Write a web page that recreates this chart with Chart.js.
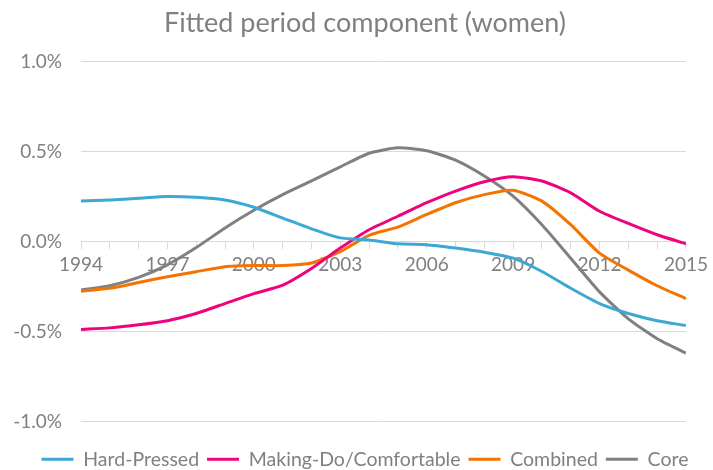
<!DOCTYPE html>
<html>
<head>
<meta charset="utf-8">
<script src="https://cdn.jsdelivr.net/npm/chart.js@4/dist/chart.umd.min.js"></script>
<style>
  html, body { margin: 0; padding: 0; background: #fff; }
  #wrap { width: 713px; height: 470px; }
</style>
</head>
<body>
<div id="wrap"><canvas id="chart" width="713" height="470"></canvas></div>
<script>
// years 1994..2015, values in percent
const years = [1994, 1995, 1996, 1997, 1998, 1999, 2000, 2001, 2002, 2003, 2004,
               2005, 2006, 2007, 2008, 2009, 2010, 2011, 2012, 2013, 2014, 2015];
const yearLabels = [1994, 1997, 2000, 2003, 2006, 2009, 2012, 2015];
const yTicks = [-1.0, -0.5, 0.0, 0.5, 1.0];

const hardPressed = [0.224, 0.23, 0.24, 0.25, 0.245, 0.23, 0.19, 0.13, 0.07, 0.02, 0.008,
                     -0.013, -0.018, -0.037, -0.06, -0.093, -0.167, -0.26, -0.345, -0.40, -0.44, -0.467];
const makingDo = [-0.489, -0.48, -0.463, -0.44, -0.40, -0.345, -0.29, -0.243, -0.15, -0.037, 0.065,
                  0.14, 0.215, 0.28, 0.332, 0.36, 0.336, 0.27, 0.168, 0.10, 0.037, -0.013];
const combined = [-0.276, -0.26, -0.228, -0.196, -0.168, -0.14, -0.134, -0.134, -0.12, -0.056, 0.034,
                  0.08, 0.15, 0.215, 0.26, 0.284, 0.224, 0.093, -0.065, -0.159, -0.246, -0.317];
const core = [-0.27, -0.246, -0.2, -0.13, -0.034, 0.075, 0.173, 0.26, 0.336, 0.414, 0.49,
              0.52, 0.504, 0.452, 0.364, 0.252, 0.093, -0.093, -0.28, -0.43, -0.54, -0.62];

const seriesNames = ['Hard-Pressed', 'Making-Do/Comfortable', 'Combined', 'Core'];
const seriesColors = ['#3BA9D3', '#F0027F', '#F57300', '#808080'];
const seriesValues = [hardPressed, makingDo, combined, core];

const textGrey = '#808080';
const gridGrey = '#D9D9D9';
const fontName = 'Lato, "Open Sans", sans-serif';

function toPoints(vals) {
    return vals.map((v, i) => ({ x: years[i], y: v }));
}

const datasets = seriesNames.map((name, i) => ({
    label: name,
    data: toPoints(seriesValues[i]),
    borderColor: seriesColors[i],
    backgroundColor: seriesColors[i],
    borderWidth: 3,
    pointRadius: 0,
    tension: 0.2,
    fill: false
}));

new Chart(document.getElementById('chart'), {
    type: 'line',
    data: { datasets: datasets },
    options: {
        responsive: false,
        animation: false,
        layout: { padding: { left: 10, right: -7, top: 4, bottom: -9 } },
        plugins: {
            title: {
                display: true,
                text: 'Fitted period component (women)',
                color: textGrey,
                font: { family: fontName, size: 27, weight: 'normal' },
                padding: { top: 3, bottom: 22 }
            },
            legend: {
                position: 'bottom',
                // empty legend title only used as a spacer above the items
                title: { display: true, text: '', font: { size: 2 }, padding: { top: 0, bottom: 17.6 } },
                labels: {
                    usePointStyle: true,
                    pointStyle: 'line',
                    pointStyleWidth: 32,
                    boxHeight: 3,
                    color: textGrey,
                    padding: 8,
                    font: { family: fontName, size: 19.5 }
                }
            },
            tooltip: { enabled: false }
        },
        scales: {
            x: {
                type: 'linear',
                position: { y: 0 },
                min: 1994,
                max: 2015,
                afterBuildTicks: (axis) => {
                    axis.ticks = years.map(v => ({ value: v }));
                },
                ticks: {
                    color: textGrey,
                    font: { family: fontName, size: 19 },
                    padding: 5,
                    maxRotation: 0,
                    autoSkip: false,
                    callback: (v) => yearLabels.includes(v) ? String(v) : ''
                },
                grid: { drawOnChartArea: false, drawTicks: true, tickLength: 7, color: gridGrey },
                border: { display: true, color: gridGrey, width: 1 }
            },
            y: {
                min: -1.0,
                max: 1.0,
                afterBuildTicks: (axis) => {
                    axis.ticks = yTicks.map(v => ({ value: v }));
                },
                afterFit: (axis) => { axis.width = 71; },
                ticks: {
                    color: textGrey,
                    font: { family: fontName, size: 19 },
                    padding: 19,
                    callback: (v) => v.toFixed(1) + '%'
                },
                grid: { color: gridGrey, drawTicks: false },
                border: { display: false }
            },
            // empty right-hand spacer so title and legend sit where the original has them
            yRight: {
                position: 'right',
                display: true,
                afterFit: (axis) => { axis.width = 26; },
                ticks: { display: false },
                grid: { display: false, drawTicks: false },
                border: { display: false }
            }
        }
    }
});
</script>
</body>
</html>
